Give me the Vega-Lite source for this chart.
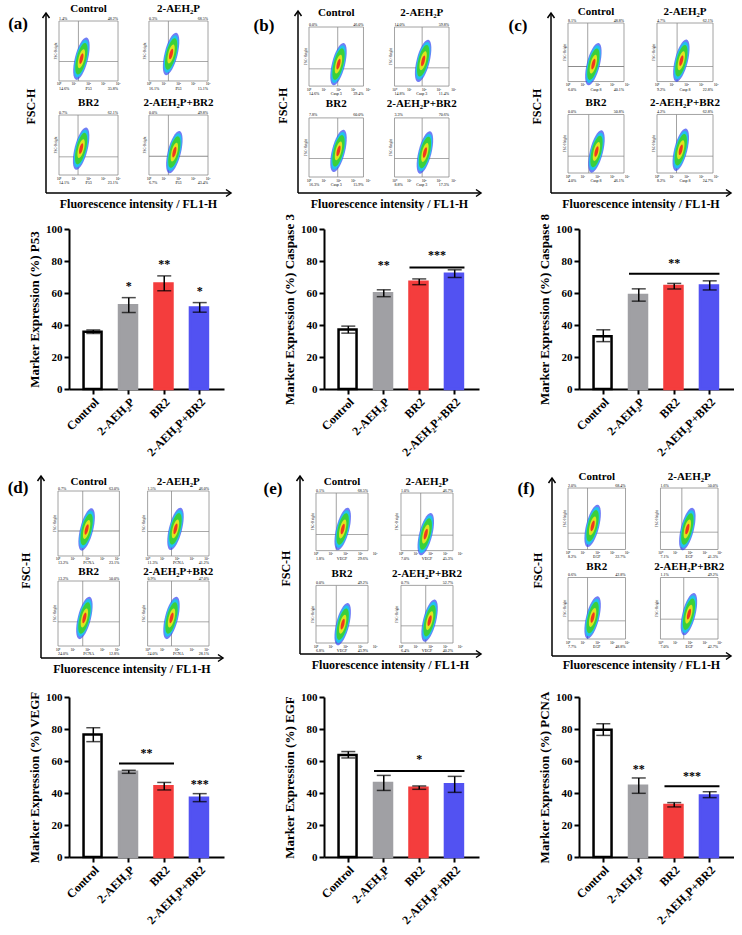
{
"$schema": "https://vega.github.io/schema/vega-lite/v6.json",
"padding": 0,
"background": "white",
"columns": 3,
"align": "each",
"bounds": "flush",
"spacing": {"row": 20, "column": 100},
"datasets": {
 "cellticks": [
  {"aeh2p": "no", "br2": "no", "d": [0, 1, 2, 3, 4], "lab": ["10⁰", "10¹", "10²", "10³", "10⁴"]},
  {"aeh2p": "yes", "br2": "no", "d": [0, 1, 2, 3, 4], "lab": ["10⁰", "10¹", "10²", "10³", "10⁴"]},
  {"aeh2p": "no", "br2": "yes", "d": [0, 1, 2, 3, 4], "lab": ["10⁰", "10¹", "10²", "10³", "10⁴"]},
  {"aeh2p": "yes", "br2": "yes", "d": [0, 1, 2, 3, 4], "lab": ["10⁰", "10¹", "10²", "10³", "10⁴"]}
 ]
},
"concat": [
  {"width": 155, "height": 208,
   "resolve": {"scale": {"x": "independent", "y": "independent"}},
   "layer": [
    {"data": {"values": [{}]},
     "layer": [
      {"mark": {"type": "rule", "strokeWidth": 1.5, "color": "#000"},
       "encoding": {"x": {"datum": 0, "type": "quantitative", "scale": {"domain": [0, 1], "range": [-23, 162]}, "axis": null},
                    "y": {"datum": 0, "type": "quantitative", "scale": {"domain": [0, 1], "range": [192, 12]}, "axis": null},
                    "y2": {"datum": 1}}},
      {"mark": {"type": "rule", "strokeWidth": 1.5, "color": "#000"},
       "encoding": {"x": {"datum": 0, "type": "quantitative"}, "x2": {"datum": 1}, "y": {"datum": 0, "type": "quantitative"}}},
      {"mark": {"type": "point", "shape": "M-0.7,1L0,0L0.7,1", "size": 100, "color": "#000", "strokeWidth": 1.5, "opacity": 1},
       "encoding": {"x": {"datum": 0, "type": "quantitative"}, "y": {"datum": 1, "type": "quantitative"}}},
      {"mark": {"type": "point", "shape": "M-1,-0.7L0,0L-1,0.7", "size": 100, "color": "#000", "strokeWidth": 1.5, "opacity": 1},
       "encoding": {"x": {"datum": 1, "type": "quantitative"}, "y": {"datum": 0, "type": "quantitative"}}},
      {"mark": {"type": "text", "text": "(a)", "fontSize": 17, "fontWeight": "bold"},
       "encoding": {"x": {"datum": -0.151, "type": "quantitative"}, "y": {"datum": 0.939, "type": "quantitative"}}},
      {"mark": {"type": "text", "text": "FSC-H", "fontSize": 12, "fontWeight": "bold", "angle": 270},
       "encoding": {"x": {"datum": -0.08, "type": "quantitative"}, "y": {"datum": 0.48, "type": "quantitative"}}},
      {"mark": {"type": "text", "text": "Fluorescence intensity / FL1-H", "fontSize": 12, "fontWeight": "bold"},
       "encoding": {"x": {"datum": 0.5, "type": "quantitative"}, "y": {"datum": -0.06, "type": "quantitative"}}},
      {"mark": {"type": "point", "size": 1, "opacity": 0},
       "encoding": {"x": {"datum": -0.243, "type": "quantitative"}, "y": {"datum": 1.067, "type": "quantitative"}}}
     ]},
    {"data": {"values": [
      {"group": "Control", "aeh2p": "no", "br2": "no", "fl": 1.52, "fsc": 380, "gfl": 1.31, "gfsc": 333, "ul": "1.4%", "ur": "48.2%", "ll": "14.6%", "lr": "35.8%", "marker": "P53"},
      {"group": "2-AEH₂P", "aeh2p": "yes", "br2": "no", "fl": 1.5, "fsc": 460, "gfl": 1.31, "gfsc": 333, "ul": "0.3%", "ur": "68.5%", "ll": "16.1%", "lr": "15.1%", "marker": "P53"},
      {"group": "BR2", "aeh2p": "no", "br2": "yes", "fl": 1.5, "fsc": 450, "gfl": 1.29, "gfsc": 309, "ul": "0.7%", "ur": "62.1%", "ll": "14.1%", "lr": "23.1%", "marker": "P53"},
      {"group": "2-AEH₂P+BR2", "aeh2p": "yes", "br2": "yes", "fl": 1.72, "fsc": 390, "gfl": 1.31, "gfsc": 320, "ul": "0.0%", "ur": "49.8%", "ll": "6.7%", "lr": "43.4%", "marker": "P53"}
     ]},
     "encoding": {
      "x": {"field": "aeh2p", "type": "nominal", "scale": {"domain": ["no", "yes"], "range": [-10, 139], "paddingInner": 0.344, "paddingOuter": 0}, "axis": null},
      "y": {"field": "br2", "type": "nominal", "scale": {"domain": ["no", "yes"], "range": [20, 174], "paddingInner": 0.362, "paddingOuter": 0}, "axis": null}},
     "layer": [
      {"mark": {"type": "rect", "fill": "#fff", "stroke": "#8c8c8c", "strokeWidth": 0.8},
       "encoding": {"x": {"field": "aeh2p", "type": "nominal", "bandPosition": 0}, "x2": {"field": "aeh2p", "bandPosition": 1}, "y": {"field": "br2", "type": "nominal", "bandPosition": 0}, "y2": {"field": "br2", "bandPosition": 1}}},
      {"mark": {"type": "tick", "orient": "vertical", "size": 60, "thickness": 0.8, "color": "#8c8c8c", "opacity": 1},
       "encoding": {"x": {"field": "aeh2p", "type": "nominal", "bandPosition": 0}, "xOffset": {"field": "gfl", "type": "quantitative", "scale": {"domain": [0, 4], "nice": false, "zero": false}}}},
      {"mark": {"type": "tick", "orient": "horizontal", "size": 59, "thickness": 0.8, "color": "#8c8c8c", "opacity": 1},
       "encoding": {"y": {"field": "br2", "type": "nominal", "bandPosition": 0}, "yOffset": {"field": "gfsc", "type": "quantitative", "scale": {"domain": [0, 1023], "reverse": true, "nice": false, "zero": false}}}},
      {"encoding": {"x": {"field": "aeh2p", "type": "nominal", "bandPosition": 0}, "xOffset": {"field": "fl", "type": "quantitative"}, "y": {"field": "br2", "type": "nominal", "bandPosition": 0}, "yOffset": {"field": "fsc", "type": "quantitative"}},
       "layer": [
        {"mark": {"type": "point", "shape": "M0,-1C0.166,-1,0.3,-0.552,0.3,0C0.3,0.552,0.166,1,0,1C-0.166,1,-0.3,0.552,-0.3,0C-0.3,-0.552,-0.166,-1,0,-1Z", "size": 1900, "filled": true, "color": "#3346f2", "opacity": 0.7, "angle": 14, "strokeWidth": 0}},
        {"mark": {"type": "point", "shape": "M0,-1C0.166,-1,0.3,-0.552,0.3,0C0.3,0.552,0.166,1,0,1C-0.166,1,-0.3,0.552,-0.3,0C-0.3,-0.552,-0.166,-1,0,-1Z", "size": 1500, "filled": true, "color": "#22c1ee", "opacity": 1, "angle": 14, "strokeWidth": 0}},
        {"mark": {"type": "point", "shape": "M0,-1C0.166,-1,0.3,-0.552,0.3,0C0.3,0.552,0.166,1,0,1C-0.166,1,-0.3,0.552,-0.3,0C-0.3,-0.552,-0.166,-1,0,-1Z", "size": 1050, "filled": true, "color": "#3bd03a", "opacity": 1, "angle": 14, "strokeWidth": 0}},
        {"mark": {"type": "point", "shape": "M0,-1C0.166,-1,0.3,-0.552,0.3,0C0.3,0.552,0.166,1,0,1C-0.166,1,-0.3,0.552,-0.3,0C-0.3,-0.552,-0.166,-1,0,-1Z", "size": 380, "filled": true, "color": "#dfe41f", "opacity": 1, "angle": 14, "strokeWidth": 0}},
        {"mark": {"type": "point", "shape": "M0,-1C0.166,-1,0.3,-0.552,0.3,0C0.3,0.552,0.166,1,0,1C-0.166,1,-0.3,0.552,-0.3,0C-0.3,-0.552,-0.166,-1,0,-1Z", "size": 120, "filled": true, "color": "#f0361f", "opacity": 1, "angle": 14, "strokeWidth": 0}}
       ]},
      {"encoding": {"y": {"field": "br2", "type": "nominal", "bandPosition": 0}},
       "layer": [
        {"mark": {"type": "text", "fontSize": 11, "fontWeight": "bold", "dy": -12}, "encoding": {"text": {"field": "group"}}},
        {"mark": {"type": "text", "fontSize": 4, "align": "left", "dy": -2.5}, "encoding": {"x": {"field": "aeh2p", "type": "nominal", "bandPosition": 0}, "text": {"field": "ul"}}},
        {"mark": {"type": "text", "fontSize": 4, "align": "right", "dy": -2.5}, "encoding": {"x": {"field": "aeh2p", "type": "nominal", "bandPosition": 1}, "text": {"field": "ur"}}}
       ]},
      {"encoding": {"y": {"field": "br2", "type": "nominal", "bandPosition": 1}},
       "layer": [
        {"mark": {"type": "text", "fontSize": 4, "align": "left", "dy": 8}, "encoding": {"x": {"field": "aeh2p", "type": "nominal", "bandPosition": 0}, "text": {"field": "ll"}}},
        {"mark": {"type": "text", "fontSize": 4, "align": "right", "dy": 8}, "encoding": {"x": {"field": "aeh2p", "type": "nominal", "bandPosition": 1}, "text": {"field": "lr"}}},
        {"mark": {"type": "text", "fontSize": 4, "dy": 8}, "encoding": {"text": {"field": "marker"}}},
        {"data": {"name": "cellticks"}, "transform": [{"flatten": ["d", "lab"]}],
         "mark": {"type": "text", "fontSize": 3.5, "dy": 3.5},
         "encoding": {"x": {"field": "aeh2p", "type": "nominal", "bandPosition": 0}, "xOffset": {"field": "d", "type": "quantitative"}, "text": {"field": "lab"}}}
       ]},
      {"mark": {"type": "text", "text": "FSC-Height", "fontSize": 3.5, "angle": 270, "baseline": "bottom", "dy": -1.5},
       "encoding": {"x": {"field": "aeh2p", "type": "nominal", "bandPosition": 0}}}
     ]}
   ]},
  {"width": 155, "height": 208,
   "resolve": {"scale": {"x": "independent", "y": "independent"}},
   "layer": [
    {"data": {"values": [{}]},
     "layer": [
      {"mark": {"type": "rule", "strokeWidth": 1.5, "color": "#000"},
       "encoding": {"x": {"datum": 0, "type": "quantitative", "scale": {"domain": [0, 1], "range": [-26, 157]}, "axis": null},
                    "y": {"datum": 0, "type": "quantitative", "scale": {"domain": [0, 1], "range": [192, 10]}, "axis": null},
                    "y2": {"datum": 1}}},
      {"mark": {"type": "rule", "strokeWidth": 1.5, "color": "#000"},
       "encoding": {"x": {"datum": 0, "type": "quantitative"}, "x2": {"datum": 1}, "y": {"datum": 0, "type": "quantitative"}}},
      {"mark": {"type": "point", "shape": "M-0.7,1L0,0L0.7,1", "size": 100, "color": "#000", "strokeWidth": 1.5, "opacity": 1},
       "encoding": {"x": {"datum": 0, "type": "quantitative"}, "y": {"datum": 1, "type": "quantitative"}}},
      {"mark": {"type": "point", "shape": "M-1,-0.7L0,0L-1,0.7", "size": 100, "color": "#000", "strokeWidth": 1.5, "opacity": 1},
       "encoding": {"x": {"datum": 1, "type": "quantitative"}, "y": {"datum": 0, "type": "quantitative"}}},
      {"mark": {"type": "text", "text": "(b)", "fontSize": 17, "fontWeight": "bold"},
       "encoding": {"x": {"datum": -0.186, "type": "quantitative"}, "y": {"datum": 0.918, "type": "quantitative"}}},
      {"mark": {"type": "text", "text": "FSC-H", "fontSize": 12, "fontWeight": "bold", "angle": 270},
       "encoding": {"x": {"datum": -0.08, "type": "quantitative"}, "y": {"datum": 0.48, "type": "quantitative"}}},
      {"mark": {"type": "text", "text": "Fluorescence intensity / FL1-H", "fontSize": 12, "fontWeight": "bold"},
       "encoding": {"x": {"datum": 0.5, "type": "quantitative"}, "y": {"datum": -0.06, "type": "quantitative"}}}
     ]},
    {"data": {"values": [
      {"group": "Control", "aeh2p": "no", "br2": "no", "fl": 2.0, "fsc": 390, "gfl": 1.95, "gfsc": 309, "ul": "0.0%", "ur": "46.0%", "ll": "14.6%", "lr": "39.4%", "marker": "Casp 3"},
      {"group": "2-AEH₂P", "aeh2p": "yes", "br2": "no", "fl": 1.94, "fsc": 446, "gfl": 1.87, "gfsc": 327, "ul": "14.0%", "ur": "59.8%", "ll": "14.8%", "lr": "11.4%", "marker": "Casp 3"},
      {"group": "BR2", "aeh2p": "no", "br2": "yes", "fl": 2.0, "fsc": 461, "gfl": 1.95, "gfsc": 332, "ul": "7.8%", "ur": "60.0%", "ll": "16.3%", "lr": "15.9%", "marker": "Casp 3"},
      {"group": "2-AEH₂P+BR2", "aeh2p": "yes", "br2": "yes", "fl": 2.06, "fsc": 433, "gfl": 1.87, "gfsc": 332, "ul": "3.3%", "ur": "70.6%", "ll": "8.8%", "lr": "17.3%", "marker": "Casp 3"}
     ]},
     "encoding": {
      "x": {"field": "aeh2p", "type": "nominal", "scale": {"domain": ["no", "yes"], "range": [-15, 125], "paddingInner": 0.363, "paddingOuter": 0}, "axis": null},
      "y": {"field": "br2", "type": "nominal", "scale": {"domain": ["no", "yes"], "range": [26, 176], "paddingInner": 0.35, "paddingOuter": 0}, "axis": null}},
     "layer": [
      {"mark": {"type": "rect", "fill": "#fff", "stroke": "#8c8c8c", "strokeWidth": 0.8},
       "encoding": {"x": {"field": "aeh2p", "type": "nominal", "bandPosition": 0}, "x2": {"field": "aeh2p", "bandPosition": 1}, "y": {"field": "br2", "type": "nominal", "bandPosition": 0}, "y2": {"field": "br2", "bandPosition": 1}}},
      {"mark": {"type": "tick", "orient": "vertical", "size": 59, "thickness": 0.8, "color": "#8c8c8c", "opacity": 1},
       "encoding": {"x": {"field": "aeh2p", "type": "nominal", "bandPosition": 0}, "xOffset": {"field": "gfl", "type": "quantitative", "scale": {"domain": [0, 4], "nice": false, "zero": false}}}},
      {"mark": {"type": "tick", "orient": "horizontal", "size": 54.5, "thickness": 0.8, "color": "#8c8c8c", "opacity": 1},
       "encoding": {"y": {"field": "br2", "type": "nominal", "bandPosition": 0}, "yOffset": {"field": "gfsc", "type": "quantitative", "scale": {"domain": [0, 1023], "reverse": true, "nice": false, "zero": false}}}},
      {"encoding": {"x": {"field": "aeh2p", "type": "nominal", "bandPosition": 0}, "xOffset": {"field": "fl", "type": "quantitative"}, "y": {"field": "br2", "type": "nominal", "bandPosition": 0}, "yOffset": {"field": "fsc", "type": "quantitative"}},
       "layer": [
        {"mark": {"type": "point", "shape": "M0,-1C0.166,-1,0.3,-0.552,0.3,0C0.3,0.552,0.166,1,0,1C-0.166,1,-0.3,0.552,-0.3,0C-0.3,-0.552,-0.166,-1,0,-1Z", "size": 1900, "filled": true, "color": "#3346f2", "opacity": 0.7, "angle": 14, "strokeWidth": 0}},
        {"mark": {"type": "point", "shape": "M0,-1C0.166,-1,0.3,-0.552,0.3,0C0.3,0.552,0.166,1,0,1C-0.166,1,-0.3,0.552,-0.3,0C-0.3,-0.552,-0.166,-1,0,-1Z", "size": 1500, "filled": true, "color": "#22c1ee", "opacity": 1, "angle": 14, "strokeWidth": 0}},
        {"mark": {"type": "point", "shape": "M0,-1C0.166,-1,0.3,-0.552,0.3,0C0.3,0.552,0.166,1,0,1C-0.166,1,-0.3,0.552,-0.3,0C-0.3,-0.552,-0.166,-1,0,-1Z", "size": 1050, "filled": true, "color": "#3bd03a", "opacity": 1, "angle": 14, "strokeWidth": 0}},
        {"mark": {"type": "point", "shape": "M0,-1C0.166,-1,0.3,-0.552,0.3,0C0.3,0.552,0.166,1,0,1C-0.166,1,-0.3,0.552,-0.3,0C-0.3,-0.552,-0.166,-1,0,-1Z", "size": 380, "filled": true, "color": "#dfe41f", "opacity": 1, "angle": 14, "strokeWidth": 0}},
        {"mark": {"type": "point", "shape": "M0,-1C0.166,-1,0.3,-0.552,0.3,0C0.3,0.552,0.166,1,0,1C-0.166,1,-0.3,0.552,-0.3,0C-0.3,-0.552,-0.166,-1,0,-1Z", "size": 120, "filled": true, "color": "#f0361f", "opacity": 1, "angle": 14, "strokeWidth": 0}}
       ]},
      {"encoding": {"y": {"field": "br2", "type": "nominal", "bandPosition": 0}},
       "layer": [
        {"mark": {"type": "text", "fontSize": 11, "fontWeight": "bold", "dy": -14}, "encoding": {"text": {"field": "group"}}},
        {"mark": {"type": "text", "fontSize": 4, "align": "left", "dy": -2.5}, "encoding": {"x": {"field": "aeh2p", "type": "nominal", "bandPosition": 0}, "text": {"field": "ul"}}},
        {"mark": {"type": "text", "fontSize": 4, "align": "right", "dy": -2.5}, "encoding": {"x": {"field": "aeh2p", "type": "nominal", "bandPosition": 1}, "text": {"field": "ur"}}}
       ]},
      {"encoding": {"y": {"field": "br2", "type": "nominal", "bandPosition": 1}},
       "layer": [
        {"mark": {"type": "text", "fontSize": 4, "align": "left", "dy": 8}, "encoding": {"x": {"field": "aeh2p", "type": "nominal", "bandPosition": 0}, "text": {"field": "ll"}}},
        {"mark": {"type": "text", "fontSize": 4, "align": "right", "dy": 8}, "encoding": {"x": {"field": "aeh2p", "type": "nominal", "bandPosition": 1}, "text": {"field": "lr"}}},
        {"mark": {"type": "text", "fontSize": 4, "dy": 8}, "encoding": {"text": {"field": "marker"}}},
        {"data": {"name": "cellticks"}, "transform": [{"flatten": ["d", "lab"]}],
         "mark": {"type": "text", "fontSize": 3.5, "dy": 3.5},
         "encoding": {"x": {"field": "aeh2p", "type": "nominal", "bandPosition": 0}, "xOffset": {"field": "d", "type": "quantitative"}, "text": {"field": "lab"}}}
       ]},
      {"mark": {"type": "text", "text": "FSC-Height", "fontSize": 3.5, "angle": 270, "baseline": "bottom", "dy": -1.5},
       "encoding": {"x": {"field": "aeh2p", "type": "nominal", "bandPosition": 0}}}
     ]}
   ]},
  {"width": 155, "height": 208,
   "resolve": {"scale": {"x": "independent", "y": "independent"}},
   "layer": [
    {"data": {"values": [{}]},
     "layer": [
      {"mark": {"type": "rule", "strokeWidth": 1.5, "color": "#000"},
       "encoding": {"x": {"datum": 0, "type": "quantitative", "scale": {"domain": [0, 1], "range": [-28, 152]}, "axis": null},
                    "y": {"datum": 0, "type": "quantitative", "scale": {"domain": [0, 1], "range": [192, 12]}, "axis": null},
                    "y2": {"datum": 1}}},
      {"mark": {"type": "rule", "strokeWidth": 1.5, "color": "#000"},
       "encoding": {"x": {"datum": 0, "type": "quantitative"}, "x2": {"datum": 1}, "y": {"datum": 0, "type": "quantitative"}}},
      {"mark": {"type": "point", "shape": "M-0.7,1L0,0L0.7,1", "size": 100, "color": "#000", "strokeWidth": 1.5, "opacity": 1},
       "encoding": {"x": {"datum": 0, "type": "quantitative"}, "y": {"datum": 1, "type": "quantitative"}}},
      {"mark": {"type": "point", "shape": "M-1,-0.7L0,0L-1,0.7", "size": 100, "color": "#000", "strokeWidth": 1.5, "opacity": 1},
       "encoding": {"x": {"datum": 1, "type": "quantitative"}, "y": {"datum": 0, "type": "quantitative"}}},
      {"mark": {"type": "text", "text": "(c)", "fontSize": 17, "fontWeight": "bold"},
       "encoding": {"x": {"datum": -0.183, "type": "quantitative"}, "y": {"datum": 0.928, "type": "quantitative"}}},
      {"mark": {"type": "text", "text": "FSC-H", "fontSize": 12, "fontWeight": "bold", "angle": 270},
       "encoding": {"x": {"datum": -0.08, "type": "quantitative"}, "y": {"datum": 0.48, "type": "quantitative"}}},
      {"mark": {"type": "text", "text": "Fluorescence intensity / FL1-H", "fontSize": 12, "fontWeight": "bold"},
       "encoding": {"x": {"datum": 0.5, "type": "quantitative"}, "y": {"datum": -0.06, "type": "quantitative"}}}
     ]},
    {"data": {"values": [
      {"group": "Control", "aeh2p": "no", "br2": "no", "fl": 1.72, "fsc": 321, "gfl": 1.34, "gfsc": 281, "ul": "8.1%", "ur": "48.8%", "ll": "6.0%", "lr": "40.1%", "marker": "Casp 8"},
      {"group": "2-AEH₂P", "aeh2p": "yes", "br2": "no", "fl": 1.65, "fsc": 380, "gfl": 1.36, "gfsc": 283, "ul": "4.7%", "ur": "62.1%", "ll": "9.2%", "lr": "22.8%", "marker": "Casp 8"},
      {"group": "BR2", "aeh2p": "no", "br2": "yes", "fl": 1.93, "fsc": 391, "gfl": 1.41, "gfsc": 313, "ul": "0.0%", "ur": "50.8%", "ll": "4.0%", "lr": "46.1%", "marker": "Casp 8"},
      {"group": "2-AEH₂P+BR2", "aeh2p": "yes", "br2": "yes", "fl": 1.61, "fsc": 421, "gfl": 1.32, "gfsc": 313, "ul": "4.2%", "ur": "62.8%", "ll": "8.2%", "lr": "24.7%", "marker": "Casp 8"}
     ]},
     "encoding": {
      "x": {"field": "aeh2p", "type": "nominal", "scale": {"domain": ["no", "yes"], "range": [-11, 134], "paddingInner": 0.371, "paddingOuter": 0}, "axis": null},
      "y": {"field": "br2", "type": "nominal", "scale": {"domain": ["no", "yes"], "range": [22, 172], "paddingInner": 0.36, "paddingOuter": 0}, "axis": null}},
     "layer": [
      {"mark": {"type": "rect", "fill": "#fff", "stroke": "#8c8c8c", "strokeWidth": 0.8},
       "encoding": {"x": {"field": "aeh2p", "type": "nominal", "bandPosition": 0}, "x2": {"field": "aeh2p", "bandPosition": 1}, "y": {"field": "br2", "type": "nominal", "bandPosition": 0}, "y2": {"field": "br2", "bandPosition": 1}}},
      {"mark": {"type": "tick", "orient": "vertical", "size": 58.5, "thickness": 0.8, "color": "#8c8c8c", "opacity": 1},
       "encoding": {"x": {"field": "aeh2p", "type": "nominal", "bandPosition": 0}, "xOffset": {"field": "gfl", "type": "quantitative", "scale": {"domain": [0, 4], "nice": false, "zero": false}}}},
      {"mark": {"type": "tick", "orient": "horizontal", "size": 56, "thickness": 0.8, "color": "#8c8c8c", "opacity": 1},
       "encoding": {"y": {"field": "br2", "type": "nominal", "bandPosition": 0}, "yOffset": {"field": "gfsc", "type": "quantitative", "scale": {"domain": [0, 1023], "reverse": true, "nice": false, "zero": false}}}},
      {"encoding": {"x": {"field": "aeh2p", "type": "nominal", "bandPosition": 0}, "xOffset": {"field": "fl", "type": "quantitative"}, "y": {"field": "br2", "type": "nominal", "bandPosition": 0}, "yOffset": {"field": "fsc", "type": "quantitative"}},
       "layer": [
        {"mark": {"type": "point", "shape": "M0,-1C0.166,-1,0.3,-0.552,0.3,0C0.3,0.552,0.166,1,0,1C-0.166,1,-0.3,0.552,-0.3,0C-0.3,-0.552,-0.166,-1,0,-1Z", "size": 1900, "filled": true, "color": "#3346f2", "opacity": 0.7, "angle": 14, "strokeWidth": 0}},
        {"mark": {"type": "point", "shape": "M0,-1C0.166,-1,0.3,-0.552,0.3,0C0.3,0.552,0.166,1,0,1C-0.166,1,-0.3,0.552,-0.3,0C-0.3,-0.552,-0.166,-1,0,-1Z", "size": 1500, "filled": true, "color": "#22c1ee", "opacity": 1, "angle": 14, "strokeWidth": 0}},
        {"mark": {"type": "point", "shape": "M0,-1C0.166,-1,0.3,-0.552,0.3,0C0.3,0.552,0.166,1,0,1C-0.166,1,-0.3,0.552,-0.3,0C-0.3,-0.552,-0.166,-1,0,-1Z", "size": 1050, "filled": true, "color": "#3bd03a", "opacity": 1, "angle": 14, "strokeWidth": 0}},
        {"mark": {"type": "point", "shape": "M0,-1C0.166,-1,0.3,-0.552,0.3,0C0.3,0.552,0.166,1,0,1C-0.166,1,-0.3,0.552,-0.3,0C-0.3,-0.552,-0.166,-1,0,-1Z", "size": 380, "filled": true, "color": "#dfe41f", "opacity": 1, "angle": 14, "strokeWidth": 0}},
        {"mark": {"type": "point", "shape": "M0,-1C0.166,-1,0.3,-0.552,0.3,0C0.3,0.552,0.166,1,0,1C-0.166,1,-0.3,0.552,-0.3,0C-0.3,-0.552,-0.166,-1,0,-1Z", "size": 120, "filled": true, "color": "#f0361f", "opacity": 1, "angle": 14, "strokeWidth": 0}}
       ]},
      {"encoding": {"y": {"field": "br2", "type": "nominal", "bandPosition": 0}},
       "layer": [
        {"mark": {"type": "text", "fontSize": 11, "fontWeight": "bold", "dy": -11}, "encoding": {"text": {"field": "group"}}},
        {"mark": {"type": "text", "fontSize": 4, "align": "left", "dy": -2.5}, "encoding": {"x": {"field": "aeh2p", "type": "nominal", "bandPosition": 0}, "text": {"field": "ul"}}},
        {"mark": {"type": "text", "fontSize": 4, "align": "right", "dy": -2.5}, "encoding": {"x": {"field": "aeh2p", "type": "nominal", "bandPosition": 1}, "text": {"field": "ur"}}}
       ]},
      {"encoding": {"y": {"field": "br2", "type": "nominal", "bandPosition": 1}},
       "layer": [
        {"mark": {"type": "text", "fontSize": 4, "align": "left", "dy": 8}, "encoding": {"x": {"field": "aeh2p", "type": "nominal", "bandPosition": 0}, "text": {"field": "ll"}}},
        {"mark": {"type": "text", "fontSize": 4, "align": "right", "dy": 8}, "encoding": {"x": {"field": "aeh2p", "type": "nominal", "bandPosition": 1}, "text": {"field": "lr"}}},
        {"mark": {"type": "text", "fontSize": 4, "dy": 8}, "encoding": {"text": {"field": "marker"}}},
        {"data": {"name": "cellticks"}, "transform": [{"flatten": ["d", "lab"]}],
         "mark": {"type": "text", "fontSize": 3.5, "dy": 3.5},
         "encoding": {"x": {"field": "aeh2p", "type": "nominal", "bandPosition": 0}, "xOffset": {"field": "d", "type": "quantitative"}, "text": {"field": "lab"}}}
       ]},
      {"mark": {"type": "text", "text": "FSC-Height", "fontSize": 3.5, "angle": 270, "baseline": "bottom", "dy": -1.5},
       "encoding": {"x": {"field": "aeh2p", "type": "nominal", "bandPosition": 0}}}
     ]}
   ]},
  {"width": 155, "height": 160,
   "data": {"values": [
    {"group": "Control", "mean": 35.8, "lo": 34.7, "hi": 36.9},
    {"group": "2-AEH₂P", "mean": 52.4, "lo": 47.8, "hi": 57.1},
    {"group": "BR2", "mean": 66.0, "lo": 61.4, "hi": 70.7},
    {"group": "2-AEH₂P+BR2", "mean": 50.9, "lo": 48.0, "hi": 54.0}
   ]},
   "encoding": {"x": {"field": "group", "type": "nominal", "title": null, "scale": {"domain": ["Control", "2-AEH₂P", "BR2", "2-AEH₂P+BR2"], "paddingInner": 0.45, "paddingOuter": 0.41}, "axis": {"title": null, "labelAngle": -45}}},
   "layer": [
    {"mark": {"type": "bar", "strokeWidth": 2.5},
     "encoding": {"y": {"field": "mean", "type": "quantitative", "title": "Marker Expression (%) P53", "scale": {"domain": [0, 100], "nice": false}, "axis": {"values": [0, 20, 40, 60, 80, 100], "tickCount": 6}},
                  "fill": {"field": "group", "type": "nominal", "scale": {"domain": ["Control", "2-AEH₂P", "BR2", "2-AEH₂P+BR2"], "range": ["#ffffff", "#a0a0a4", "#f43d3d", "#5252f2"]}, "legend": null},
                  "stroke": {"field": "group", "type": "nominal", "scale": {"domain": ["Control", "2-AEH₂P", "BR2", "2-AEH₂P+BR2"], "range": ["#000000", "#a0a0a4", "#f43d3d", "#5252f2"]}, "legend": null}}},
    {"mark": {"type": "errorbar", "ticks": {"size": 14}, "thickness": 1.5, "color": "#000"},
     "encoding": {"y": {"field": "lo", "type": "quantitative", "title": "Marker Expression (%) P53"}, "y2": {"field": "hi"}}},
    {"data": {"values": [{"group": "2-AEH₂P", "y": 66, "s": "*"}, {"group": "BR2", "y": 79.8, "s": "**"}, {"group": "2-AEH₂P+BR2", "y": 62.9, "s": "*"}]},
     "mark": {"type": "text", "fontSize": 12, "fontWeight": "bold", "dy": 3, "color": "#000"},
     "encoding": {"y": {"field": "y", "type": "quantitative", "title": "Marker Expression (%) P53"}, "text": {"field": "s"}}}
   ]},
  {"width": 155, "height": 160,
   "data": {"values": [
    {"group": "Control", "mean": 37.2, "lo": 34.9, "hi": 39.3},
    {"group": "2-AEH₂P", "mean": 59.8, "lo": 57.7, "hi": 62.0},
    {"group": "BR2", "mean": 67.0, "lo": 65.2, "hi": 68.8},
    {"group": "2-AEH₂P+BR2", "mean": 72.1, "lo": 69.7, "hi": 74.5}
   ]},
   "encoding": {"x": {"field": "group", "type": "nominal", "title": null, "scale": {"domain": ["Control", "2-AEH₂P", "BR2", "2-AEH₂P+BR2"], "paddingInner": 0.45, "paddingOuter": 0.41}, "axis": {"title": null, "labelAngle": -45}}},
   "layer": [
    {"mark": {"type": "bar", "strokeWidth": 2.5},
     "encoding": {"y": {"field": "mean", "type": "quantitative", "title": "Marker Expression (%) Caspase 3", "scale": {"domain": [0, 100], "nice": false}, "axis": {"values": [0, 20, 40, 60, 80, 100], "tickCount": 6}},
                  "fill": {"field": "group", "type": "nominal", "scale": {"domain": ["Control", "2-AEH₂P", "BR2", "2-AEH₂P+BR2"], "range": ["#ffffff", "#a0a0a4", "#f43d3d", "#5252f2"]}, "legend": null},
                  "stroke": {"field": "group", "type": "nominal", "scale": {"domain": ["Control", "2-AEH₂P", "BR2", "2-AEH₂P+BR2"], "range": ["#000000", "#a0a0a4", "#f43d3d", "#5252f2"]}, "legend": null}}},
    {"mark": {"type": "errorbar", "ticks": {"size": 14}, "thickness": 1.5, "color": "#000"},
     "encoding": {"y": {"field": "lo", "type": "quantitative", "title": "Marker Expression (%) Caspase 3"}, "y2": {"field": "hi"}}},
    {"data": {"values": [{"group": "2-AEH₂P", "y": 79.5, "s": "**"}]},
     "mark": {"type": "text", "fontSize": 12, "fontWeight": "bold", "dy": 3, "color": "#000"},
     "encoding": {"y": {"field": "y", "type": "quantitative", "title": "Marker Expression (%) Caspase 3"}, "text": {"field": "s"}}},
    {"data": {"values": [{"from": "BR2", "to": "2-AEH₂P+BR2", "y": 75.9}]},
     "mark": {"type": "rule", "strokeWidth": 2, "color": "#000"},
     "encoding": {"x": {"field": "from", "type": "nominal", "bandPosition": 0, "title": null}, "x2": {"field": "to", "bandPosition": 1}, "y": {"field": "y", "type": "quantitative", "title": "Marker Expression (%) Caspase 3"}}},
    {"data": {"values": [{"group": "BR2", "y": 85.6, "s": "***"}]},
     "mark": {"type": "text", "fontSize": 12, "fontWeight": "bold", "dy": 3, "dx": 8, "color": "#000"},
     "encoding": {"x": {"field": "group", "type": "nominal", "bandPosition": 1, "title": null}, "y": {"field": "y", "type": "quantitative", "title": "Marker Expression (%) Caspase 3"}, "text": {"field": "s"}}}
   ]},
  {"width": 155, "height": 160,
   "data": {"values": [
    {"group": "Control", "mean": 33.0, "lo": 29.6, "hi": 37.0},
    {"group": "2-AEH₂P", "mean": 58.7, "lo": 54.9, "hi": 62.6},
    {"group": "BR2", "mean": 64.3, "lo": 62.5, "hi": 66.0},
    {"group": "2-AEH₂P+BR2", "mean": 64.7, "lo": 61.9, "hi": 67.6}
   ]},
   "encoding": {"x": {"field": "group", "type": "nominal", "title": null, "scale": {"domain": ["Control", "2-AEH₂P", "BR2", "2-AEH₂P+BR2"], "paddingInner": 0.45, "paddingOuter": 0.41}, "axis": {"title": null, "labelAngle": -45}}},
   "layer": [
    {"mark": {"type": "bar", "strokeWidth": 2.5},
     "encoding": {"y": {"field": "mean", "type": "quantitative", "title": "Marker Expression (%) Caspase 8", "scale": {"domain": [0, 100], "nice": false}, "axis": {"values": [0, 20, 40, 60, 80, 100], "tickCount": 6}},
                  "fill": {"field": "group", "type": "nominal", "scale": {"domain": ["Control", "2-AEH₂P", "BR2", "2-AEH₂P+BR2"], "range": ["#ffffff", "#a0a0a4", "#f43d3d", "#5252f2"]}, "legend": null},
                  "stroke": {"field": "group", "type": "nominal", "scale": {"domain": ["Control", "2-AEH₂P", "BR2", "2-AEH₂P+BR2"], "range": ["#000000", "#a0a0a4", "#f43d3d", "#5252f2"]}, "legend": null}}},
    {"mark": {"type": "errorbar", "ticks": {"size": 14}, "thickness": 1.5, "color": "#000"},
     "encoding": {"y": {"field": "lo", "type": "quantitative", "title": "Marker Expression (%) Caspase 8"}, "y2": {"field": "hi"}}},
    {"data": {"values": [{"from": "2-AEH₂P", "to": "2-AEH₂P+BR2", "y": 72.1}]},
     "mark": {"type": "rule", "strokeWidth": 2, "color": "#000"},
     "encoding": {"x": {"field": "from", "type": "nominal", "bandPosition": 0, "title": null}, "x2": {"field": "to", "bandPosition": 1}, "y": {"field": "y", "type": "quantitative", "title": "Marker Expression (%) Caspase 8"}}},
    {"data": {"values": [{"group": "BR2", "y": 80.6, "s": "**"}]},
     "mark": {"type": "text", "fontSize": 12, "fontWeight": "bold", "dy": 3, "color": "#000"},
     "encoding": {"y": {"field": "y", "type": "quantitative", "title": "Marker Expression (%) Caspase 8"}, "text": {"field": "s"}}}
   ]},
  {"width": 155, "height": 268,
   "resolve": {"scale": {"x": "independent", "y": "independent"}},
   "layer": [
    {"data": {"values": [{}]},
     "layer": [
      {"mark": {"type": "rule", "strokeWidth": 1.5, "color": "#000"},
       "encoding": {"x": {"datum": 0, "type": "quantitative", "scale": {"domain": [0, 1], "range": [-28, 154]}, "axis": null},
                    "y": {"datum": 0, "type": "quantitative", "scale": {"domain": [0, 1], "range": [249, 67]}, "axis": null},
                    "y2": {"datum": 1}}},
      {"mark": {"type": "rule", "strokeWidth": 1.5, "color": "#000"},
       "encoding": {"x": {"datum": 0, "type": "quantitative"}, "x2": {"datum": 1}, "y": {"datum": 0, "type": "quantitative"}}},
      {"mark": {"type": "point", "shape": "M-0.7,1L0,0L0.7,1", "size": 100, "color": "#000", "strokeWidth": 1.5, "opacity": 1},
       "encoding": {"x": {"datum": 0, "type": "quantitative"}, "y": {"datum": 1, "type": "quantitative"}}},
      {"mark": {"type": "point", "shape": "M-1,-0.7L0,0L-1,0.7", "size": 100, "color": "#000", "strokeWidth": 1.5, "opacity": 1},
       "encoding": {"x": {"datum": 1, "type": "quantitative"}, "y": {"datum": 0, "type": "quantitative"}}},
      {"mark": {"type": "text", "text": "(d)", "fontSize": 17, "fontWeight": "bold"},
       "encoding": {"x": {"datum": -0.126, "type": "quantitative"}, "y": {"datum": 0.934, "type": "quantitative"}}},
      {"mark": {"type": "text", "text": "FSC-H", "fontSize": 12, "fontWeight": "bold", "angle": 270},
       "encoding": {"x": {"datum": -0.08, "type": "quantitative"}, "y": {"datum": 0.48, "type": "quantitative"}}},
      {"mark": {"type": "text", "text": "Fluorescence intensity / FL1-H", "fontSize": 12, "fontWeight": "bold"},
       "encoding": {"x": {"datum": 0.5, "type": "quantitative"}, "y": {"datum": -0.06, "type": "quantitative"}}}
     ]},
    {"data": {"values": [
      {"group": "Control", "aeh2p": "no", "br2": "no", "fl": 1.94, "fsc": 367, "gfl": 1.68, "gfsc": 341, "ul": "0.7%", "ur": "63.0%", "ll": "13.2%", "lr": "23.1%", "marker": "PCNA"},
      {"group": "2-AEH₂P", "aeh2p": "yes", "br2": "no", "fl": 1.89, "fsc": 377, "gfl": 1.62, "gfsc": 334, "ul": "1.5%", "ur": "46.0%", "ll": "11.3%", "lr": "41.2%", "marker": "PCNA"},
      {"group": "BR2", "aeh2p": "no", "br2": "yes", "fl": 1.79, "fsc": 393, "gfl": 1.68, "gfsc": 325, "ul": "13.2%", "ur": "50.0%", "ll": "24.0%", "lr": "12.8%", "marker": "PCNA"},
      {"group": "2-AEH₂P+BR2", "aeh2p": "yes", "br2": "yes", "fl": 1.62, "fsc": 393, "gfl": 1.62, "gfsc": 325, "ul": "0.9%", "ur": "47.0%", "ll": "24.0%", "lr": "28.1%", "marker": "PCNA"}
     ]},
     "encoding": {
      "x": {"field": "aeh2p", "type": "nominal", "scale": {"domain": ["no", "yes"], "range": [-11, 140], "paddingInner": 0.315, "paddingOuter": 0}, "axis": null},
      "y": {"field": "br2", "type": "nominal", "scale": {"domain": ["no", "yes"], "range": [82, 237], "paddingInner": 0.278, "paddingOuter": 0}, "axis": null}},
     "layer": [
      {"mark": {"type": "rect", "fill": "#fff", "stroke": "#8c8c8c", "strokeWidth": 0.8},
       "encoding": {"x": {"field": "aeh2p", "type": "nominal", "bandPosition": 0}, "x2": {"field": "aeh2p", "bandPosition": 1}, "y": {"field": "br2", "type": "nominal", "bandPosition": 0}, "y2": {"field": "br2", "bandPosition": 1}}},
      {"mark": {"type": "tick", "orient": "vertical", "size": 65, "thickness": 0.8, "color": "#8c8c8c", "opacity": 1},
       "encoding": {"x": {"field": "aeh2p", "type": "nominal", "bandPosition": 0}, "xOffset": {"field": "gfl", "type": "quantitative", "scale": {"domain": [0, 4], "nice": false, "zero": false}}}},
      {"mark": {"type": "tick", "orient": "horizontal", "size": 61.4, "thickness": 0.8, "color": "#8c8c8c", "opacity": 1},
       "encoding": {"y": {"field": "br2", "type": "nominal", "bandPosition": 0}, "yOffset": {"field": "gfsc", "type": "quantitative", "scale": {"domain": [0, 1023], "reverse": true, "nice": false, "zero": false}}}},
      {"encoding": {"x": {"field": "aeh2p", "type": "nominal", "bandPosition": 0}, "xOffset": {"field": "fl", "type": "quantitative"}, "y": {"field": "br2", "type": "nominal", "bandPosition": 0}, "yOffset": {"field": "fsc", "type": "quantitative"}},
       "layer": [
        {"mark": {"type": "point", "shape": "M0,-1C0.166,-1,0.3,-0.552,0.3,0C0.3,0.552,0.166,1,0,1C-0.166,1,-0.3,0.552,-0.3,0C-0.3,-0.552,-0.166,-1,0,-1Z", "size": 1900, "filled": true, "color": "#3346f2", "opacity": 0.7, "angle": 14, "strokeWidth": 0}},
        {"mark": {"type": "point", "shape": "M0,-1C0.166,-1,0.3,-0.552,0.3,0C0.3,0.552,0.166,1,0,1C-0.166,1,-0.3,0.552,-0.3,0C-0.3,-0.552,-0.166,-1,0,-1Z", "size": 1500, "filled": true, "color": "#22c1ee", "opacity": 1, "angle": 14, "strokeWidth": 0}},
        {"mark": {"type": "point", "shape": "M0,-1C0.166,-1,0.3,-0.552,0.3,0C0.3,0.552,0.166,1,0,1C-0.166,1,-0.3,0.552,-0.3,0C-0.3,-0.552,-0.166,-1,0,-1Z", "size": 1050, "filled": true, "color": "#3bd03a", "opacity": 1, "angle": 14, "strokeWidth": 0}},
        {"mark": {"type": "point", "shape": "M0,-1C0.166,-1,0.3,-0.552,0.3,0C0.3,0.552,0.166,1,0,1C-0.166,1,-0.3,0.552,-0.3,0C-0.3,-0.552,-0.166,-1,0,-1Z", "size": 380, "filled": true, "color": "#dfe41f", "opacity": 1, "angle": 14, "strokeWidth": 0}},
        {"mark": {"type": "point", "shape": "M0,-1C0.166,-1,0.3,-0.552,0.3,0C0.3,0.552,0.166,1,0,1C-0.166,1,-0.3,0.552,-0.3,0C-0.3,-0.552,-0.166,-1,0,-1Z", "size": 120, "filled": true, "color": "#f0361f", "opacity": 1, "angle": 14, "strokeWidth": 0}}
       ]},
      {"encoding": {"y": {"field": "br2", "type": "nominal", "bandPosition": 0}},
       "layer": [
        {"mark": {"type": "text", "fontSize": 11, "fontWeight": "bold", "dy": -9}, "encoding": {"text": {"field": "group"}}},
        {"mark": {"type": "text", "fontSize": 4, "align": "left", "dy": -2.5}, "encoding": {"x": {"field": "aeh2p", "type": "nominal", "bandPosition": 0}, "text": {"field": "ul"}}},
        {"mark": {"type": "text", "fontSize": 4, "align": "right", "dy": -2.5}, "encoding": {"x": {"field": "aeh2p", "type": "nominal", "bandPosition": 1}, "text": {"field": "ur"}}}
       ]},
      {"encoding": {"y": {"field": "br2", "type": "nominal", "bandPosition": 1}},
       "layer": [
        {"mark": {"type": "text", "fontSize": 4, "align": "left", "dy": 7.5}, "encoding": {"x": {"field": "aeh2p", "type": "nominal", "bandPosition": 0}, "text": {"field": "ll"}}},
        {"mark": {"type": "text", "fontSize": 4, "align": "right", "dy": 7.5}, "encoding": {"x": {"field": "aeh2p", "type": "nominal", "bandPosition": 1}, "text": {"field": "lr"}}},
        {"mark": {"type": "text", "fontSize": 4, "dy": 7.5}, "encoding": {"text": {"field": "marker"}}},
        {"data": {"name": "cellticks"}, "transform": [{"flatten": ["d", "lab"]}],
         "mark": {"type": "text", "fontSize": 3.5, "dy": 3.5},
         "encoding": {"x": {"field": "aeh2p", "type": "nominal", "bandPosition": 0}, "xOffset": {"field": "d", "type": "quantitative"}, "text": {"field": "lab"}}}
       ]},
      {"mark": {"type": "text", "text": "FSC-Height", "fontSize": 3.5, "angle": 270, "baseline": "bottom", "dy": -1.5},
       "encoding": {"x": {"field": "aeh2p", "type": "nominal", "bandPosition": 0}}}
     ]}
   ]},
  {"width": 155, "height": 268,
   "resolve": {"scale": {"x": "independent", "y": "independent"}},
   "layer": [
    {"data": {"values": [{}]},
     "layer": [
      {"mark": {"type": "rule", "strokeWidth": 1.5, "color": "#000"},
       "encoding": {"x": {"datum": 0, "type": "quantitative", "scale": {"domain": [0, 1], "range": [-24, 157]}, "axis": null},
                    "y": {"datum": 0, "type": "quantitative", "scale": {"domain": [0, 1], "range": [245, 67]}, "axis": null},
                    "y2": {"datum": 1}}},
      {"mark": {"type": "rule", "strokeWidth": 1.5, "color": "#000"},
       "encoding": {"x": {"datum": 0, "type": "quantitative"}, "x2": {"datum": 1}, "y": {"datum": 0, "type": "quantitative"}}},
      {"mark": {"type": "point", "shape": "M-0.7,1L0,0L0.7,1", "size": 100, "color": "#000", "strokeWidth": 1.5, "opacity": 1},
       "encoding": {"x": {"datum": 0, "type": "quantitative"}, "y": {"datum": 1, "type": "quantitative"}}},
      {"mark": {"type": "point", "shape": "M-1,-0.7L0,0L-1,0.7", "size": 100, "color": "#000", "strokeWidth": 1.5, "opacity": 1},
       "encoding": {"x": {"datum": 1, "type": "quantitative"}, "y": {"datum": 0, "type": "quantitative"}}},
      {"mark": {"type": "text", "text": "(e)", "fontSize": 17, "fontWeight": "bold"},
       "encoding": {"x": {"datum": -0.149, "type": "quantitative"}, "y": {"datum": 0.927, "type": "quantitative"}}},
      {"mark": {"type": "text", "text": "FSC-H", "fontSize": 12, "fontWeight": "bold", "angle": 270},
       "encoding": {"x": {"datum": -0.08, "type": "quantitative"}, "y": {"datum": 0.48, "type": "quantitative"}}},
      {"mark": {"type": "text", "text": "Fluorescence intensity / FL1-H", "fontSize": 12, "fontWeight": "bold"},
       "encoding": {"x": {"datum": 0.5, "type": "quantitative"}, "y": {"datum": -0.06, "type": "quantitative"}}}
     ]},
    {"data": {"values": [
      {"group": "Control", "aeh2p": "no", "br2": "no", "fl": 1.81, "fsc": 409, "gfl": 1.37, "gfsc": 316, "ul": "0.1%", "ur": "68.5%", "ll": "1.8%", "lr": "29.6%", "marker": "VEGF"},
      {"group": "2-AEH₂P", "aeh2p": "yes", "br2": "no", "fl": 1.68, "fsc": 322, "gfl": 1.34, "gfsc": 304, "ul": "1.0%", "ur": "46.7%", "ll": "7.0%", "lr": "45.3%", "marker": "VEGF"},
      {"group": "BR2", "aeh2p": "no", "br2": "yes", "fl": 1.81, "fsc": 361, "gfl": 1.37, "gfsc": 331, "ul": "0.0%", "ur": "49.2%", "ll": "6.8%", "lr": "43.9%", "marker": "VEGF"},
      {"group": "2-AEH₂P+BR2", "aeh2p": "yes", "br2": "yes", "fl": 1.94, "fsc": 421, "gfl": 1.68, "gfsc": 331, "ul": "0.7%", "ur": "52.7%", "ll": "6.4%", "lr": "40.2%", "marker": "VEGF"}
     ]},
     "encoding": {
      "x": {"field": "aeh2p", "type": "nominal", "scale": {"domain": ["no", "yes"], "range": [-8, 129], "paddingInner": 0.388, "paddingOuter": 0}, "axis": null},
      "y": {"field": "br2", "type": "nominal", "scale": {"domain": ["no", "yes"], "range": [84, 234], "paddingInner": 0.376, "paddingOuter": 0}, "axis": null}},
     "layer": [
      {"mark": {"type": "rect", "fill": "#fff", "stroke": "#8c8c8c", "strokeWidth": 0.8},
       "encoding": {"x": {"field": "aeh2p", "type": "nominal", "bandPosition": 0}, "x2": {"field": "aeh2p", "bandPosition": 1}, "y": {"field": "br2", "type": "nominal", "bandPosition": 0}, "y2": {"field": "br2", "bandPosition": 1}}},
      {"mark": {"type": "tick", "orient": "vertical", "size": 57.6, "thickness": 0.8, "color": "#8c8c8c", "opacity": 1},
       "encoding": {"x": {"field": "aeh2p", "type": "nominal", "bandPosition": 0}, "xOffset": {"field": "gfl", "type": "quantitative", "scale": {"domain": [0, 4], "nice": false, "zero": false}}}},
      {"mark": {"type": "tick", "orient": "horizontal", "size": 52, "thickness": 0.8, "color": "#8c8c8c", "opacity": 1},
       "encoding": {"y": {"field": "br2", "type": "nominal", "bandPosition": 0}, "yOffset": {"field": "gfsc", "type": "quantitative", "scale": {"domain": [0, 1023], "reverse": true, "nice": false, "zero": false}}}},
      {"encoding": {"x": {"field": "aeh2p", "type": "nominal", "bandPosition": 0}, "xOffset": {"field": "fl", "type": "quantitative"}, "y": {"field": "br2", "type": "nominal", "bandPosition": 0}, "yOffset": {"field": "fsc", "type": "quantitative"}},
       "layer": [
        {"mark": {"type": "point", "shape": "M0,-1C0.166,-1,0.3,-0.552,0.3,0C0.3,0.552,0.166,1,0,1C-0.166,1,-0.3,0.552,-0.3,0C-0.3,-0.552,-0.166,-1,0,-1Z", "size": 1900, "filled": true, "color": "#3346f2", "opacity": 0.7, "angle": 14, "strokeWidth": 0}},
        {"mark": {"type": "point", "shape": "M0,-1C0.166,-1,0.3,-0.552,0.3,0C0.3,0.552,0.166,1,0,1C-0.166,1,-0.3,0.552,-0.3,0C-0.3,-0.552,-0.166,-1,0,-1Z", "size": 1500, "filled": true, "color": "#22c1ee", "opacity": 1, "angle": 14, "strokeWidth": 0}},
        {"mark": {"type": "point", "shape": "M0,-1C0.166,-1,0.3,-0.552,0.3,0C0.3,0.552,0.166,1,0,1C-0.166,1,-0.3,0.552,-0.3,0C-0.3,-0.552,-0.166,-1,0,-1Z", "size": 1050, "filled": true, "color": "#3bd03a", "opacity": 1, "angle": 14, "strokeWidth": 0}},
        {"mark": {"type": "point", "shape": "M0,-1C0.166,-1,0.3,-0.552,0.3,0C0.3,0.552,0.166,1,0,1C-0.166,1,-0.3,0.552,-0.3,0C-0.3,-0.552,-0.166,-1,0,-1Z", "size": 380, "filled": true, "color": "#dfe41f", "opacity": 1, "angle": 14, "strokeWidth": 0}},
        {"mark": {"type": "point", "shape": "M0,-1C0.166,-1,0.3,-0.552,0.3,0C0.3,0.552,0.166,1,0,1C-0.166,1,-0.3,0.552,-0.3,0C-0.3,-0.552,-0.166,-1,0,-1Z", "size": 120, "filled": true, "color": "#f0361f", "opacity": 1, "angle": 14, "strokeWidth": 0}}
       ]},
      {"encoding": {"y": {"field": "br2", "type": "nominal", "bandPosition": 0}},
       "layer": [
        {"mark": {"type": "text", "fontSize": 11, "fontWeight": "bold", "dy": -11}, "encoding": {"text": {"field": "group"}}},
        {"mark": {"type": "text", "fontSize": 4, "align": "left", "dy": -2.5}, "encoding": {"x": {"field": "aeh2p", "type": "nominal", "bandPosition": 0}, "text": {"field": "ul"}}},
        {"mark": {"type": "text", "fontSize": 4, "align": "right", "dy": -2.5}, "encoding": {"x": {"field": "aeh2p", "type": "nominal", "bandPosition": 1}, "text": {"field": "ur"}}}
       ]},
      {"encoding": {"y": {"field": "br2", "type": "nominal", "bandPosition": 1}},
       "layer": [
        {"mark": {"type": "text", "fontSize": 4, "align": "left", "dy": 8}, "encoding": {"x": {"field": "aeh2p", "type": "nominal", "bandPosition": 0}, "text": {"field": "ll"}}},
        {"mark": {"type": "text", "fontSize": 4, "align": "right", "dy": 8}, "encoding": {"x": {"field": "aeh2p", "type": "nominal", "bandPosition": 1}, "text": {"field": "lr"}}},
        {"mark": {"type": "text", "fontSize": 4, "dy": 8}, "encoding": {"text": {"field": "marker"}}},
        {"data": {"name": "cellticks"}, "transform": [{"flatten": ["d", "lab"]}],
         "mark": {"type": "text", "fontSize": 3.5, "dy": 3.5},
         "encoding": {"x": {"field": "aeh2p", "type": "nominal", "bandPosition": 0}, "xOffset": {"field": "d", "type": "quantitative"}, "text": {"field": "lab"}}}
       ]},
      {"mark": {"type": "text", "text": "FSC-Height", "fontSize": 3.5, "angle": 270, "baseline": "bottom", "dy": -1.5},
       "encoding": {"x": {"field": "aeh2p", "type": "nominal", "bandPosition": 0}}}
     ]}
   ]},
  {"width": 155, "height": 268,
   "resolve": {"scale": {"x": "independent", "y": "independent"}},
   "layer": [
    {"data": {"values": [{}]},
     "layer": [
      {"mark": {"type": "rule", "strokeWidth": 1.5, "color": "#000"},
       "encoding": {"x": {"datum": 0, "type": "quantitative", "scale": {"domain": [0, 1], "range": [-27, 152]}, "axis": null},
                    "y": {"datum": 0, "type": "quantitative", "scale": {"domain": [0, 1], "range": [247, 69]}, "axis": null},
                    "y2": {"datum": 1}}},
      {"mark": {"type": "rule", "strokeWidth": 1.5, "color": "#000"},
       "encoding": {"x": {"datum": 0, "type": "quantitative"}, "x2": {"datum": 1}, "y": {"datum": 0, "type": "quantitative"}}},
      {"mark": {"type": "point", "shape": "M-0.7,1L0,0L0.7,1", "size": 100, "color": "#000", "strokeWidth": 1.5, "opacity": 1},
       "encoding": {"x": {"datum": 0, "type": "quantitative"}, "y": {"datum": 1, "type": "quantitative"}}},
      {"mark": {"type": "point", "shape": "M-1,-0.7L0,0L-1,0.7", "size": 100, "color": "#000", "strokeWidth": 1.5, "opacity": 1},
       "encoding": {"x": {"datum": 1, "type": "quantitative"}, "y": {"datum": 0, "type": "quantitative"}}},
      {"mark": {"type": "text", "text": "(f)", "fontSize": 17, "fontWeight": "bold"},
       "encoding": {"x": {"datum": -0.145, "type": "quantitative"}, "y": {"datum": 0.938, "type": "quantitative"}}},
      {"mark": {"type": "text", "text": "FSC-H", "fontSize": 12, "fontWeight": "bold", "angle": 270},
       "encoding": {"x": {"datum": -0.08, "type": "quantitative"}, "y": {"datum": 0.48, "type": "quantitative"}}},
      {"mark": {"type": "text", "text": "Fluorescence intensity / FL1-H", "fontSize": 12, "fontWeight": "bold"},
       "encoding": {"x": {"datum": 0.5, "type": "quantitative"}, "y": {"datum": -0.05, "type": "quantitative"}}}
     ]},
    {"data": {"values": [
      {"group": "Control", "aeh2p": "no", "br2": "no", "fl": 1.67, "fsc": 377, "gfl": 1.33, "gfsc": 253, "ul": "2.0%", "ur": "68.4%", "ll": "8.2%", "lr": "22.7%", "marker": "EGF"},
      {"group": "2-AEH₂P", "aeh2p": "yes", "br2": "no", "fl": 1.82, "fsc": 323, "gfl": 1.45, "gfsc": 269, "ul": "1.6%", "ur": "50.0%", "ll": "7.1%", "lr": "41.3%", "marker": "EGF"},
      {"group": "BR2", "aeh2p": "no", "br2": "yes", "fl": 1.67, "fsc": 341, "gfl": 1.33, "gfsc": 284, "ul": "0.6%", "ur": "42.8%", "ll": "7.7%", "lr": "48.8%", "marker": "EGF"},
      {"group": "2-AEH₂P+BR2", "aeh2p": "yes", "br2": "yes", "fl": 1.93, "fsc": 398, "gfl": 1.58, "gfsc": 312, "ul": "1.1%", "ur": "49.2%", "ll": "7.0%", "lr": "42.7%", "marker": "EGF"}
     ]},
     "encoding": {
      "x": {"field": "aeh2p", "type": "nominal", "scale": {"domain": ["no", "yes"], "range": [-11, 139], "paddingInner": 0.378, "paddingOuter": 0}, "axis": null},
      "y": {"field": "br2", "type": "nominal", "scale": {"domain": ["no", "yes"], "range": [79, 230], "paddingInner": 0.313, "paddingOuter": 0}, "axis": null}},
     "layer": [
      {"mark": {"type": "rect", "fill": "#fff", "stroke": "#8c8c8c", "strokeWidth": 0.8},
       "encoding": {"x": {"field": "aeh2p", "type": "nominal", "bandPosition": 0}, "x2": {"field": "aeh2p", "bandPosition": 1}, "y": {"field": "br2", "type": "nominal", "bandPosition": 0}, "y2": {"field": "br2", "bandPosition": 1}}},
      {"mark": {"type": "tick", "orient": "vertical", "size": 61.5, "thickness": 0.8, "color": "#8c8c8c", "opacity": 1},
       "encoding": {"x": {"field": "aeh2p", "type": "nominal", "bandPosition": 0}, "xOffset": {"field": "gfl", "type": "quantitative", "scale": {"domain": [0, 4], "nice": false, "zero": false}}}},
      {"mark": {"type": "tick", "orient": "horizontal", "size": 57.5, "thickness": 0.8, "color": "#8c8c8c", "opacity": 1},
       "encoding": {"y": {"field": "br2", "type": "nominal", "bandPosition": 0}, "yOffset": {"field": "gfsc", "type": "quantitative", "scale": {"domain": [0, 1023], "reverse": true, "nice": false, "zero": false}}}},
      {"encoding": {"x": {"field": "aeh2p", "type": "nominal", "bandPosition": 0}, "xOffset": {"field": "fl", "type": "quantitative"}, "y": {"field": "br2", "type": "nominal", "bandPosition": 0}, "yOffset": {"field": "fsc", "type": "quantitative"}},
       "layer": [
        {"mark": {"type": "point", "shape": "M0,-1C0.166,-1,0.3,-0.552,0.3,0C0.3,0.552,0.166,1,0,1C-0.166,1,-0.3,0.552,-0.3,0C-0.3,-0.552,-0.166,-1,0,-1Z", "size": 1900, "filled": true, "color": "#3346f2", "opacity": 0.7, "angle": 14, "strokeWidth": 0}},
        {"mark": {"type": "point", "shape": "M0,-1C0.166,-1,0.3,-0.552,0.3,0C0.3,0.552,0.166,1,0,1C-0.166,1,-0.3,0.552,-0.3,0C-0.3,-0.552,-0.166,-1,0,-1Z", "size": 1500, "filled": true, "color": "#22c1ee", "opacity": 1, "angle": 14, "strokeWidth": 0}},
        {"mark": {"type": "point", "shape": "M0,-1C0.166,-1,0.3,-0.552,0.3,0C0.3,0.552,0.166,1,0,1C-0.166,1,-0.3,0.552,-0.3,0C-0.3,-0.552,-0.166,-1,0,-1Z", "size": 1050, "filled": true, "color": "#3bd03a", "opacity": 1, "angle": 14, "strokeWidth": 0}},
        {"mark": {"type": "point", "shape": "M0,-1C0.166,-1,0.3,-0.552,0.3,0C0.3,0.552,0.166,1,0,1C-0.166,1,-0.3,0.552,-0.3,0C-0.3,-0.552,-0.166,-1,0,-1Z", "size": 380, "filled": true, "color": "#dfe41f", "opacity": 1, "angle": 14, "strokeWidth": 0}},
        {"mark": {"type": "point", "shape": "M0,-1C0.166,-1,0.3,-0.552,0.3,0C0.3,0.552,0.166,1,0,1C-0.166,1,-0.3,0.552,-0.3,0C-0.3,-0.552,-0.166,-1,0,-1Z", "size": 120, "filled": true, "color": "#f0361f", "opacity": 1, "angle": 14, "strokeWidth": 0}}
       ]},
      {"encoding": {"y": {"field": "br2", "type": "nominal", "bandPosition": 0}},
       "layer": [
        {"mark": {"type": "text", "fontSize": 11, "fontWeight": "bold", "dy": -11}, "encoding": {"text": {"field": "group"}}},
        {"mark": {"type": "text", "fontSize": 4, "align": "left", "dy": -2.5}, "encoding": {"x": {"field": "aeh2p", "type": "nominal", "bandPosition": 0}, "text": {"field": "ul"}}},
        {"mark": {"type": "text", "fontSize": 4, "align": "right", "dy": -2.5}, "encoding": {"x": {"field": "aeh2p", "type": "nominal", "bandPosition": 1}, "text": {"field": "ur"}}}
       ]},
      {"encoding": {"y": {"field": "br2", "type": "nominal", "bandPosition": 1}},
       "layer": [
        {"mark": {"type": "text", "fontSize": 4, "align": "left", "dy": 8}, "encoding": {"x": {"field": "aeh2p", "type": "nominal", "bandPosition": 0}, "text": {"field": "ll"}}},
        {"mark": {"type": "text", "fontSize": 4, "align": "right", "dy": 8}, "encoding": {"x": {"field": "aeh2p", "type": "nominal", "bandPosition": 1}, "text": {"field": "lr"}}},
        {"mark": {"type": "text", "fontSize": 4, "dy": 8}, "encoding": {"text": {"field": "marker"}}},
        {"data": {"name": "cellticks"}, "transform": [{"flatten": ["d", "lab"]}],
         "mark": {"type": "text", "fontSize": 3.5, "dy": 3.5},
         "encoding": {"x": {"field": "aeh2p", "type": "nominal", "bandPosition": 0}, "xOffset": {"field": "d", "type": "quantitative"}, "text": {"field": "lab"}}}
       ]},
      {"mark": {"type": "text", "text": "FSC-Height", "fontSize": 3.5, "angle": 270, "baseline": "bottom", "dy": -1.5},
       "encoding": {"x": {"field": "aeh2p", "type": "nominal", "bandPosition": 0}}}
     ]}
   ]},
  {"width": 155, "height": 160,
   "data": {"values": [
    {"group": "Control", "mean": 76.5, "lo": 72.1, "hi": 80.8},
    {"group": "2-AEH₂P", "mean": 53.3, "lo": 52.3, "hi": 54.2},
    {"group": "BR2", "mean": 44.2, "lo": 41.9, "hi": 46.6},
    {"group": "2-AEH₂P+BR2", "mean": 37.1, "lo": 34.6, "hi": 39.6}
   ]},
   "encoding": {"x": {"field": "group", "type": "nominal", "title": null, "scale": {"domain": ["Control", "2-AEH₂P", "BR2", "2-AEH₂P+BR2"], "paddingInner": 0.45, "paddingOuter": 0.41}, "axis": {"title": null, "labelAngle": -45}}},
   "layer": [
    {"mark": {"type": "bar", "strokeWidth": 2.5},
     "encoding": {"y": {"field": "mean", "type": "quantitative", "title": "Marker Expression (%) VEGF", "scale": {"domain": [0, 100], "nice": false}, "axis": {"values": [0, 20, 40, 60, 80, 100], "tickCount": 6}},
                  "fill": {"field": "group", "type": "nominal", "scale": {"domain": ["Control", "2-AEH₂P", "BR2", "2-AEH₂P+BR2"], "range": ["#ffffff", "#a0a0a4", "#f43d3d", "#5252f2"]}, "legend": null},
                  "stroke": {"field": "group", "type": "nominal", "scale": {"domain": ["Control", "2-AEH₂P", "BR2", "2-AEH₂P+BR2"], "range": ["#000000", "#a0a0a4", "#f43d3d", "#5252f2"]}, "legend": null}}},
    {"mark": {"type": "errorbar", "ticks": {"size": 14}, "thickness": 1.5, "color": "#000"},
     "encoding": {"y": {"field": "lo", "type": "quantitative", "title": "Marker Expression (%) VEGF"}, "y2": {"field": "hi"}}},
    {"data": {"values": [{"from": "2-AEH₂P", "to": "BR2", "y": 58.5}]},
     "mark": {"type": "rule", "strokeWidth": 2, "color": "#000"},
     "encoding": {"x": {"field": "from", "type": "nominal", "bandPosition": 0, "title": null}, "x2": {"field": "to", "bandPosition": 1}, "y": {"field": "y", "type": "quantitative", "title": "Marker Expression (%) VEGF"}}},
    {"data": {"values": [{"group": "2-AEH₂P", "y": 66.7, "s": "**"}]},
     "mark": {"type": "text", "fontSize": 12, "fontWeight": "bold", "dy": 3, "dx": 8, "color": "#000"},
     "encoding": {"x": {"field": "group", "type": "nominal", "bandPosition": 1, "title": null}, "y": {"field": "y", "type": "quantitative", "title": "Marker Expression (%) VEGF"}, "text": {"field": "s"}}},
    {"data": {"values": [{"group": "2-AEH₂P+BR2", "y": 47.5, "s": "***"}]},
     "mark": {"type": "text", "fontSize": 12, "fontWeight": "bold", "dy": 3, "color": "#000"},
     "encoding": {"y": {"field": "y", "type": "quantitative", "title": "Marker Expression (%) VEGF"}, "text": {"field": "s"}}}
   ]},
  {"width": 155, "height": 160,
   "data": {"values": [
    {"group": "Control", "mean": 63.8, "lo": 61.9, "hi": 65.9},
    {"group": "2-AEH₂P", "mean": 46.3, "lo": 41.6, "hi": 51.0},
    {"group": "BR2", "mean": 43.3, "lo": 42.3, "hi": 44.4},
    {"group": "2-AEH₂P+BR2", "mean": 45.4, "lo": 40.4, "hi": 50.4}
   ]},
   "encoding": {"x": {"field": "group", "type": "nominal", "title": null, "scale": {"domain": ["Control", "2-AEH₂P", "BR2", "2-AEH₂P+BR2"], "paddingInner": 0.45, "paddingOuter": 0.41}, "axis": {"title": null, "labelAngle": -45}}},
   "layer": [
    {"mark": {"type": "bar", "strokeWidth": 2.5},
     "encoding": {"y": {"field": "mean", "type": "quantitative", "title": "Marker Expression (%) EGF", "scale": {"domain": [0, 100], "nice": false}, "axis": {"values": [0, 20, 40, 60, 80, 100], "tickCount": 6}},
                  "fill": {"field": "group", "type": "nominal", "scale": {"domain": ["Control", "2-AEH₂P", "BR2", "2-AEH₂P+BR2"], "range": ["#ffffff", "#a0a0a4", "#f43d3d", "#5252f2"]}, "legend": null},
                  "stroke": {"field": "group", "type": "nominal", "scale": {"domain": ["Control", "2-AEH₂P", "BR2", "2-AEH₂P+BR2"], "range": ["#000000", "#a0a0a4", "#f43d3d", "#5252f2"]}, "legend": null}}},
    {"mark": {"type": "errorbar", "ticks": {"size": 14}, "thickness": 1.5, "color": "#000"},
     "encoding": {"y": {"field": "lo", "type": "quantitative", "title": "Marker Expression (%) EGF"}, "y2": {"field": "hi"}}},
    {"data": {"values": [{"from": "2-AEH₂P", "to": "2-AEH₂P+BR2", "y": 53.7}]},
     "mark": {"type": "rule", "strokeWidth": 2, "color": "#000"},
     "encoding": {"x": {"field": "from", "type": "nominal", "bandPosition": 0, "title": null}, "x2": {"field": "to", "bandPosition": 1}, "y": {"field": "y", "type": "quantitative", "title": "Marker Expression (%) EGF"}}},
    {"data": {"values": [{"group": "BR2", "y": 62.9, "s": "*"}]},
     "mark": {"type": "text", "fontSize": 12, "fontWeight": "bold", "dy": 3, "color": "#000"},
     "encoding": {"y": {"field": "y", "type": "quantitative", "title": "Marker Expression (%) EGF"}, "text": {"field": "s"}}}
   ]},
  {"width": 155, "height": 160,
   "data": {"values": [
    {"group": "Control", "mean": 79.6, "lo": 76.0, "hi": 83.3},
    {"group": "2-AEH₂P", "mean": 44.6, "lo": 39.8, "hi": 49.4},
    {"group": "BR2", "mean": 32.5, "lo": 31.3, "hi": 34.0},
    {"group": "2-AEH₂P+BR2", "mean": 38.5, "lo": 37.1, "hi": 40.8}
   ]},
   "encoding": {"x": {"field": "group", "type": "nominal", "title": null, "scale": {"domain": ["Control", "2-AEH₂P", "BR2", "2-AEH₂P+BR2"], "paddingInner": 0.45, "paddingOuter": 0.41}, "axis": {"title": null, "labelAngle": -45}}},
   "layer": [
    {"mark": {"type": "bar", "strokeWidth": 2.5},
     "encoding": {"y": {"field": "mean", "type": "quantitative", "title": "Marker Expression (%) PCNA", "scale": {"domain": [0, 100], "nice": false}, "axis": {"values": [0, 20, 40, 60, 80, 100], "tickCount": 6}},
                  "fill": {"field": "group", "type": "nominal", "scale": {"domain": ["Control", "2-AEH₂P", "BR2", "2-AEH₂P+BR2"], "range": ["#ffffff", "#a0a0a4", "#f43d3d", "#5252f2"]}, "legend": null},
                  "stroke": {"field": "group", "type": "nominal", "scale": {"domain": ["Control", "2-AEH₂P", "BR2", "2-AEH₂P+BR2"], "range": ["#000000", "#a0a0a4", "#f43d3d", "#5252f2"]}, "legend": null}}},
    {"mark": {"type": "errorbar", "ticks": {"size": 14}, "thickness": 1.5, "color": "#000"},
     "encoding": {"y": {"field": "lo", "type": "quantitative", "title": "Marker Expression (%) PCNA"}, "y2": {"field": "hi"}}},
    {"data": {"values": [{"group": "2-AEH₂P", "y": 56.9, "s": "**"}]},
     "mark": {"type": "text", "fontSize": 12, "fontWeight": "bold", "dy": 3, "color": "#000"},
     "encoding": {"y": {"field": "y", "type": "quantitative", "title": "Marker Expression (%) PCNA"}, "text": {"field": "s"}}},
    {"data": {"values": [{"from": "BR2", "to": "2-AEH₂P+BR2", "y": 44.2}]},
     "mark": {"type": "rule", "strokeWidth": 2, "color": "#000"},
     "encoding": {"x": {"field": "from", "type": "nominal", "bandPosition": 0, "title": null}, "x2": {"field": "to", "bandPosition": 1}, "y": {"field": "y", "type": "quantitative", "title": "Marker Expression (%) PCNA"}}},
    {"data": {"values": [{"group": "BR2", "y": 52.7, "s": "***"}]},
     "mark": {"type": "text", "fontSize": 12, "fontWeight": "bold", "dy": 3, "dx": 8, "color": "#000"},
     "encoding": {"x": {"field": "group", "type": "nominal", "bandPosition": 1, "title": null}, "y": {"field": "y", "type": "quantitative", "title": "Marker Expression (%) PCNA"}, "text": {"field": "s"}}}
   ]}
],
"config": {
 "view": {"stroke": null},
 "font": "Liberation Serif",
 "text": {"color": "#000"},
 "axis": {"labelFont": "Liberation Serif", "labelFontWeight": "bold", "labelFontSize": 11, "labelColor": "#000", "labelPadding": 2, "labelOverlap": false,
          "titleFont": "Liberation Serif", "titleFontWeight": "bold", "titleFontSize": 13, "titleColor": "#000", "titlePadding": 4,
          "domainColor": "#000", "domainWidth": 2, "tickColor": "#000", "tickWidth": 2, "tickSize": 5, "grid": false},
 "axisX": {"labelFontSize": 12},
 "axisY": {"tickCount": 6}
}
}
